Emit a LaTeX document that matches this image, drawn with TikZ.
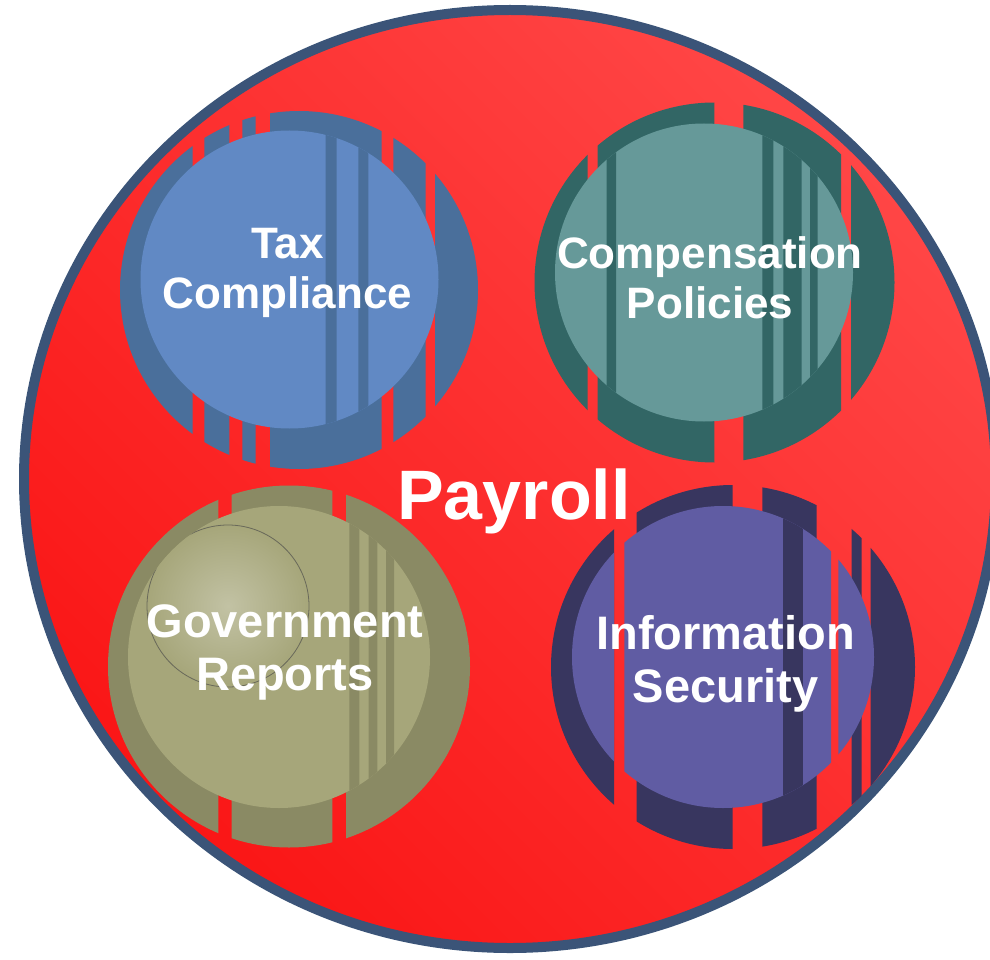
\documentclass[tikz,border=0pt]{standalone}
\usepackage{fontspec}
\setmainfont{Liberation Sans}
\definecolor{rimblue}{RGB}{59,84,120}
\definecolor{redlight}{RGB}{255,70,70}
\definecolor{reddark}{RGB}{250,22,22}
\definecolor{taxD}{RGB}{74,111,155}
\definecolor{taxL}{RGB}{97,137,196}
\definecolor{comD}{RGB}{50,102,101}
\definecolor{comL}{RGB}{102,153,153}
\definecolor{govD}{RGB}{138,138,100}
\definecolor{govL}{RGB}{166,166,122}
\definecolor{govH}{RGB}{194,194,164}
\definecolor{govE}{RGB}{105,105,90}
\definecolor{infD}{RGB}{56,54,95}
\definecolor{infL}{RGB}{96,92,163}
\tikzset{
  lbl/.style={text=white, align=center, inner sep=0pt, anchor=base},
  lbltop/.style={lbl, font=\bfseries\fontsize{44}{50}\selectfont},
  lblbot/.style={lbl, font=\bfseries\fontsize{47}{52.5}\selectfont},
  title/.style={text=white, inner sep=0pt, anchor=base, font=\bfseries\fontsize{70}{80}\selectfont},
}
\begin{document}
\begin{tikzpicture}[x=1pt,y=-1pt]
\useasboundingbox (0,0) rectangle (990,960);
\clip (0,0) rectangle (990,960);
% big payroll disc
\coordinate (pc) at (510,479);
\shade[top color=redlight, bottom color=reddark, shading angle=-45]
  (pc) ellipse [x radius=486pt, y radius=469pt];
\draw[rimblue, line width=10pt] (pc) ellipse [x radius=486pt, y radius=469pt];

% ---------- Tax Compliance ----------
\coordinate (taxO) at (299,290);
\coordinate (taxI) at (289.5,279.5);
\begin{scope}
  \clip (taxO) circle[radius=179pt];
  \fill[taxD] (119,100) rectangle (192.7,480) (204.3,100) rectangle (229.3,480)
    (242.3,100) rectangle (255.7,480) (270,100) rectangle (381.7,480)
    (393.3,100) rectangle (425.7,480) (435,100) rectangle (480,480);
\end{scope}
\begin{scope}
  \clip (taxI) circle[radius=149pt];
  \fill[taxL] (135,125) rectangle (445,435);
  \fill[taxD] (325.7,125) rectangle (336.7,435) (358.3,125) rectangle (368.3,435);
\end{scope}

% ---------- Compensation Policies ----------
\coordinate (comO) at (714.5,282.5);
\coordinate (comI) at (704,272.5);
\begin{scope}
  \clip (comO) circle[radius=180pt];
  \fill[comD] (533,100) rectangle (587.7,465) (597.7,100) rectangle (714.3,465)
    (743.3,100) rectangle (841,465) (851,100) rectangle (896,465);
\end{scope}
\begin{scope}
  \clip (comI) circle[radius=149pt];
  \fill[comL] (550,120) rectangle (860,425);
  \fill[comD] (606.7,120) rectangle (616,425) (762.3,120) rectangle (773.3,425)
    (783.3,120) rectangle (801.7,425) (810,120) rectangle (817.7,425);
\end{scope}

% ---------- Government Reports ----------
\coordinate (govO) at (289,666.5);
\coordinate (govI) at (279,657);
\coordinate (govG) at (228,606);
\begin{scope}
  \clip (govO) circle[radius=181pt];
  \fill[govD] (106,483) rectangle (218.3,850) (231.7,483) rectangle (332.3,850)
    (346,483) rectangle (472,850);
\end{scope}
\begin{scope}
  \clip (govI) circle[radius=151pt];
  \fill[govL] (125,503) rectangle (435,812);
  \shade[inner color=govH, outer color=govL] (govG) circle[radius=81pt];
  \draw[govE, line width=0.8pt] (govG) circle[radius=81pt];
  \fill[govD] (349.3,503) rectangle (359.3,812) (368.7,503) rectangle (377.3,812)
    (386,503) rectangle (394,812);
\end{scope}

% ---------- Information Security ----------
\coordinate (infO) at (733,667);
\coordinate (infI) at (723,657);
\begin{scope}
  \clip (infO) circle[radius=182pt];
  \fill[infD] (549,483) rectangle (614,851) (636.7,483) rectangle (732.7,851)
    (762.3,483) rectangle (816.7,851) (851.7,483) rectangle (861.7,851)
    (870.7,483) rectangle (917,851);
\end{scope}
\begin{scope}
  \clip (infI) circle[radius=151pt];
  \fill[infL] (570,503) rectangle (614,812) (624.3,503) rectangle (831,812)
    (838.3,503) rectangle (877,812);
  \fill[infD] (782.7,503) rectangle (803.3,812);
\end{scope}

% ---------- labels (base = baseline of last line) ----------
\node[lbltop] (taxT) at (287.5,308) {Tax\\Compliance};
\node[lbltop] (comT) at (710,318) {Compensation\\Policies};
\node[lblbot] (govT) at (285,690) {Government\\Reports};
\node[lblbot] (infT) at (725.5,702) {Information\\Security};
\node[title] (payT) at (514,519) {Payroll};
\end{tikzpicture}
\end{document}
